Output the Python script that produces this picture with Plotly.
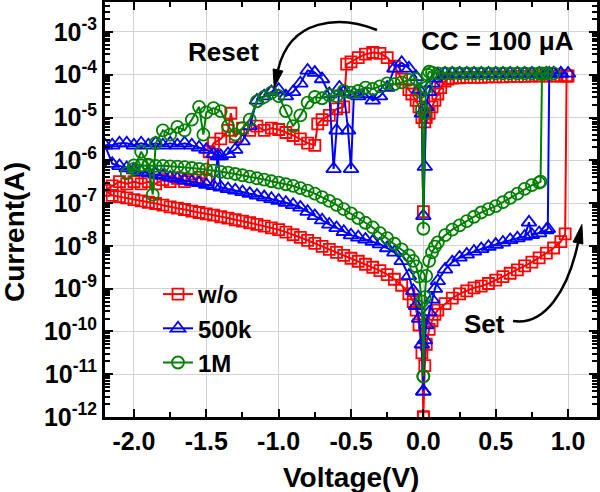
import plotly.graph_objects as go

# ---------------- data (log10 of |current| in A, voltage in V) ----------------
# w/o (red)
RED_SET_V = [0.0, 0.01, 0.02, 0.04, 0.06, 0.08, 0.10, 0.15, 0.20, 0.25, 0.30, 0.35, 0.40, 0.45,
             0.50, 0.55, 0.60, 0.65, 0.70, 0.75, 0.80, 0.85, 0.90, 0.95, 0.98, 0.99, 1.00]
RED_SET_LOGI = [-12.0, -10.8, -10.3, -9.95, -9.75, -9.6, -9.5, -9.35, -9.22, -9.12, -9.05, -8.98,
                -8.94, -8.88, -8.8, -8.72, -8.64, -8.56, -8.47, -8.38, -8.28, -8.17, -8.05, -7.9,
                -7.72, -4.03, -4.03]
RED_DOWN_V = [0.95, 0.90, 0.85, 0.80, 0.75, 0.70, 0.65, 0.60, 0.55, 0.50, 0.45, 0.40, 0.35, 0.30,
              0.25, 0.20, 0.17, 0.15, 0.12, 0.10, 0.08, 0.06, 0.04, 0.02, 0.01, 0.0]
RED_DOWN_LOGI = [-4.03, -4.03, -4.03, -4.03, -4.03, -4.04, -4.04, -4.04, -4.05, -4.05, -4.05, -4.06,
                 -4.06, -4.06, -4.07, -4.08, -4.1, -4.15, -4.3, -4.45, -4.6, -4.75, -4.9, -5.0,
                 -5.1, -7.2]
RED_RESET_V = [-0.01, -0.03, -0.05, -0.08, -0.10, -0.15, -0.20, -0.25, -0.30, -0.35, -0.40, -0.45,
               -0.50, -0.53, -0.55, -0.60, -0.65, -0.70, -0.73, -0.75, -0.80, -0.85, -0.90, -0.95,
               -1.00, -1.05, -1.10, -1.15, -1.20, -1.25, -1.30, -1.33, -1.35, -1.40, -1.45, -1.48,
               -1.50, -1.55, -1.60, -1.65, -1.70, -1.75, -1.80, -1.85, -1.90, -1.95, -2.00, -2.05,
               -2.10, -2.15, -2.20]
RED_RESET_LOGI = [-5.0, -4.75, -4.6, -4.45, -4.35, -4.1, -3.8, -3.6, -3.5, -3.48, -3.52, -3.6,
                  -3.7, -3.75, -4.75, -4.8, -4.95, -5.05, -5.15, -5.65, -5.6, -5.5, -5.42, -5.35,
                  -5.28, -5.25, -5.3, -5.2, -5.3, -5.25, -5.45, -4.9, -5.3, -5.5, -5.6, -5.8,
                  -6.45, -6.4, -6.45, -6.5, -6.42, -6.5, -6.45, -6.55, -6.5, -6.55, -6.5, -6.55,
                  -6.5, -6.6, -6.7]
RED_RET_V = [-2.15, -2.10, -2.05, -2.00, -1.95, -1.90, -1.85, -1.80, -1.75, -1.70, -1.65, -1.60,
             -1.55, -1.50, -1.45, -1.40, -1.35, -1.30, -1.25, -1.20, -1.15, -1.10, -1.05, -1.00,
             -0.95, -0.90, -0.85, -0.80, -0.75, -0.70, -0.65, -0.60, -0.55, -0.50, -0.45, -0.40,
             -0.35, -0.30, -0.25, -0.20, -0.15, -0.10, -0.07, -0.05, -0.03, -0.01, 0.0]
RED_RET_LOGI = [-6.82, -6.85, -6.88, -6.92, -6.95, -6.98, -7.01, -7.05, -7.09, -7.12, -7.15, -7.19,
                -7.22, -7.25, -7.28, -7.32, -7.35, -7.39, -7.42, -7.46, -7.5, -7.54, -7.58, -7.62,
                -7.68, -7.74, -7.8, -7.87, -7.94, -8.01, -8.08, -8.15, -8.22, -8.29, -8.36, -8.43,
                -8.5, -8.58, -8.67, -8.78, -8.92, -9.12, -9.3, -9.5, -9.85, -10.5, -12.0]

# 500k (blue)
BLUE_SET_V = [0.0, 0.01, 0.02, 0.04, 0.06, 0.08, 0.10, 0.15, 0.20, 0.25, 0.30, 0.35, 0.40, 0.45,
              0.50, 0.55, 0.60, 0.65, 0.70, 0.73, 0.75, 0.80, 0.85, 0.86, 0.87, 0.90, 0.95, 1.00]
BLUE_SET_LOGI = [-11.4, -10.2, -9.85, -9.55, -9.25, -9.0, -8.82, -8.55, -8.38, -8.27, -8.2, -8.13,
                 -8.07, -8.02, -7.97, -7.92, -7.86, -7.82, -7.78, -7.45, -7.74, -7.7, -7.63, -7.6,
                 -3.97, -3.97, -3.97, -3.97]
BLUE_DOWN_V = [0.95, 0.90, 0.85, 0.80, 0.75, 0.70, 0.65, 0.60, 0.55, 0.50, 0.45, 0.40, 0.35, 0.30,
               0.25, 0.20, 0.15, 0.10, 0.08, 0.06, 0.04, 0.02, 0.01, 0.0]
BLUE_DOWN_LOGI = [-3.97, -3.97, -3.97, -3.97, -3.97, -3.97, -3.97, -3.97, -3.97, -3.97, -3.97,
                  -3.97, -3.97, -3.97, -3.97, -3.97, -3.97, -4.0, -4.08, -4.2, -4.4, -4.75, -6.15,
                  -7.3]
BLUE_RESET_V = [-0.01, -0.03, -0.05, -0.10, -0.15, -0.20, -0.25, -0.30, -0.35, -0.40, -0.45, -0.48,
                -0.50, -0.52, -0.55, -0.58, -0.60, -0.62, -0.65, -0.70, -0.75, -0.80, -0.85, -0.90,
                -0.95, -1.00, -1.05, -1.10, -1.15, -1.20, -1.25, -1.30, -1.35, -1.40, -1.45, -1.50,
                -1.55, -1.60, -1.65, -1.70, -1.75, -1.80, -1.85, -1.90, -1.95, -2.00, -2.05, -2.10,
                -2.15, -2.20]
BLUE_RESET_LOGI = [-4.9, -4.35, -4.05, -3.85, -3.72, -3.85, -4.3, -4.5, -4.6, -4.45, -4.5, -4.45,
                   -6.2, -5.3, -4.4, -4.3, -5.3, -6.2, -4.45, -4.1, -3.95, -3.9, -4.2, -4.4, -4.5,
                   -4.35, -4.4, -4.5, -4.6, -5.2, -5.55, -5.75, -5.85, -5.9, -5.85, -5.75, -5.7,
                   -5.65, -5.6, -5.65, -5.6, -5.65, -5.6, -5.65, -5.6, -5.65, -5.6, -5.6, -5.65,
                   -5.65]
BLUE_RET_V = [-2.15, -2.10, -2.05, -2.00, -1.95, -1.90, -1.85, -1.80, -1.75, -1.70, -1.65, -1.60,
              -1.55, -1.50, -1.45, -1.42, -1.40, -1.35, -1.30, -1.25, -1.20, -1.15, -1.10, -1.05,
              -1.00, -0.95, -0.90, -0.85, -0.80, -0.75, -0.70, -0.65, -0.60, -0.55, -0.50, -0.45,
              -0.40, -0.35, -0.30, -0.25, -0.20, -0.15, -0.10, -0.07, -0.05, -0.03, -0.01, 0.0]
BLUE_RET_LOGI = [-6.08, -6.13, -6.18, -6.23, -6.27, -6.3, -6.33, -6.36, -6.4, -6.43, -6.47, -6.5,
                 -6.53, -6.57, -6.6, -5.9, -6.63, -6.67, -6.7, -6.74, -6.78, -6.82, -6.86, -6.9,
                 -6.94, -6.99, -7.04, -7.1, -7.2, -7.3, -7.4, -7.5, -7.58, -7.67, -7.75, -7.8,
                 -7.85, -7.9, -7.96, -8.05, -8.15, -8.35, -8.7, -9.05, -9.4, -9.7, -10.3, -11.4]

# 1M (green)
GREEN_SET_V = [0.0, 0.01, 0.02, 0.04, 0.06, 0.08, 0.10, 0.15, 0.20, 0.25, 0.30, 0.35, 0.40, 0.45,
               0.50, 0.55, 0.60, 0.65, 0.70, 0.75, 0.80, 0.81, 0.82, 0.85, 0.90]
GREEN_SET_LOGI = [-11.05, -9.2, -8.7, -8.35, -8.15, -8.02, -7.92, -7.75, -7.62, -7.52, -7.42, -7.32,
                  -7.22, -7.14, -7.07, -6.98, -6.88, -6.78, -6.67, -6.58, -6.52, -6.5, -3.97,
                  -3.97, -3.97]
GREEN_DOWN_V = [0.85, 0.80, 0.75, 0.70, 0.65, 0.60, 0.55, 0.50, 0.45, 0.40, 0.35, 0.30, 0.25,
                0.20, 0.15, 0.10, 0.06, 0.04, 0.03, 0.02, 0.01, 0.0]
GREEN_DOWN_LOGI = [-3.97, -3.97, -3.97, -3.97, -3.97, -3.97, -3.97, -3.97, -3.97, -3.97, -3.97,
                   -3.97, -3.97, -3.97, -3.97, -3.97, -3.95, -3.93, -4.0, -4.3, -4.9, -7.6]
GREEN_RESET_V = [-0.01, -0.02, -0.05, -0.10, -0.15, -0.20, -0.25, -0.30, -0.35, -0.40, -0.45,
                 -0.50, -0.55, -0.60, -0.65, -0.70, -0.75, -0.80, -0.85, -0.90, -0.95, -1.00,
                 -1.05, -1.10, -1.15, -1.20, -1.25, -1.30, -1.35, -1.40, -1.45, -1.50, -1.52,
                 -1.55, -1.60, -1.65, -1.70, -1.75, -1.80, -1.85, -1.87, -1.90, -1.95, -2.00, -2.05]
GREEN_RESET_LOGI = [-4.8, -4.4, -4.1, -4.12, -4.18, -4.22, -4.2, -4.27, -4.33, -4.3, -4.38, -4.42,
                    -4.38, -4.5, -4.48, -4.55, -4.52, -4.65, -4.95, -5.2, -4.85, -4.5, -4.42, -4.52,
                    -4.62, -5.05, -5.25, -5.4, -5.2, -4.85, -4.78, -4.88, -5.4, -4.75, -5.05, -5.3,
                    -5.22, -5.4, -5.3, -5.6, -6.8, -6.1, -5.8, -6.2, -6.3]
GREEN_RET_V = [-2.00, -1.95, -1.90, -1.85, -1.80, -1.75, -1.70, -1.65, -1.60, -1.55, -1.50, -1.45,
               -1.40, -1.35, -1.30, -1.25, -1.20, -1.15, -1.10, -1.05, -1.00, -0.95, -0.90, -0.85,
               -0.80, -0.75, -0.70, -0.65, -0.60, -0.55, -0.50, -0.45, -0.40, -0.35, -0.30, -0.25,
               -0.20, -0.15, -0.10, -0.07, -0.05, -0.03, -0.01, 0.0]
GREEN_RET_LOGI = [-6.12, -6.12, -6.12, -6.13, -6.13, -6.14, -6.15, -6.16, -6.18, -6.2, -6.22,
                  -6.24, -6.27, -6.29, -6.32, -6.35, -6.38, -6.42, -6.45, -6.49, -6.52, -6.56,
                  -6.6, -6.65, -6.71, -6.78, -6.86, -6.95, -7.04, -7.14, -7.24, -7.35, -7.46,
                  -7.57, -7.7, -7.82, -7.95, -8.08, -8.22, -8.35, -8.48, -8.72, -9.3, -11.05]

SERIES_NAMES = ["w/o", "500k", "1M"]
X_TICKS = [-2.0, -1.5, -1.0, -0.5, 0.0, 0.5, 1.0]
X_TICK_TEXT = ["-2.0", "-1.5", "-1.0", "-0.5", "0.0", "0.5", "1.0"]
Y_EXPONENTS = [-12, -11, -10, -9, -8, -7, -6, -5, -4, -3]

# ---------------- styling ----------------
FONT = "Liberation Sans, Arial, Helvetica, sans-serif"
L, R, T, B = 105, 597, 2, 417  # plot area in pixels


def paper(x, y):
    return (x - L) / (R - L), (B - y) / (B - T)


series = [
    (SERIES_NAMES[0], "#ff0000", "square-open", 11,
     [RED_SET_V, RED_DOWN_V, RED_RESET_V, RED_RET_V],
     [RED_SET_LOGI, RED_DOWN_LOGI, RED_RESET_LOGI, RED_RET_LOGI]),
    (SERIES_NAMES[1], "#0000ff", "triangle-up-open", 13,
     [BLUE_SET_V, BLUE_DOWN_V, BLUE_RESET_V, BLUE_RET_V],
     [BLUE_SET_LOGI, BLUE_DOWN_LOGI, BLUE_RESET_LOGI, BLUE_RET_LOGI]),
    (SERIES_NAMES[2], "#008000", "circle-open", 12,
     [GREEN_SET_V, GREEN_DOWN_V, GREEN_RESET_V, GREEN_RET_V],
     [GREEN_SET_LOGI, GREEN_DOWN_LOGI, GREEN_RESET_LOGI, GREEN_RET_LOGI]),
]

fig = go.Figure()
for name, color, symbol, size, vparts, iparts in series:
    v = [x for part in vparts for x in part]
    cur = [10 ** e for part in iparts for e in part]
    fig.add_trace(go.Scatter(
        x=v, y=cur, name=name, mode="lines+markers",
        line=dict(color=color, width=2),
        marker=dict(symbol=symbol, size=size, color=color, line=dict(color=color, width=1.8)),
    ))

axis_common = dict(
    showline=True, linecolor="black", linewidth=3, mirror="allticks", automargin=False,
    ticks="inside", tickcolor="black", tickwidth=2, ticklen=8,
    showgrid=True, gridcolor="#d4d4d4", gridwidth=1, zeroline=False,
    tickfont=dict(family=FONT, size=25, color="black", weight="bold"),
)

fig.update_xaxes(
    range=[-2.2, 1.2], tickmode="array", tickvals=X_TICKS, ticktext=X_TICK_TEXT,
    minor=dict(dtick=0.25, tick0=0, ticks="inside", ticklen=5, tickwidth=2, tickcolor="black",
               showgrid=False),
    **axis_common,
)
minor_vals = [k * 10.0 ** e for e in range(-12, -2) for k in range(2, 10)]
fig.update_yaxes(
    type="log", range=[-12, -2.3], tickmode="array",
    tickvals=[10.0 ** e for e in Y_EXPONENTS],
    ticktext=["10<sup>%d</sup>" % e for e in Y_EXPONENTS],
    minor=dict(tickmode="array", tickvals=minor_vals, ticks="inside", ticklen=5, tickwidth=1.5,
               tickcolor="black", showgrid=False),
    **axis_common,
)

annotations = []
bold = dict(family=FONT, color="black", weight="bold")


def label(text, px_, py_, size, angle=0):
    ax, ay = paper(px_, py_)
    return dict(text=text, x=ax, y=ay, xref="paper", yref="paper", xanchor="center",
                yanchor="middle", showarrow=False, textangle=angle, font=dict(size=size, **bold))


annotations.append(label("Voltage(V)", 351, 477, 28))
annotations.append(label("Current(A)", 14, 232, 28, -90))
annotations.append(label("Reset", 223, 52, 26))
annotations.append(label("CC = 100 \u03bcA", 497, 41, 26))
annotations.append(label("Set", 484, 324, 26))


def path_str(cmds):
    out = []
    for c, pts in cmds:
        coords = " ".join("%.4f,%.4f" % paper(*p) for p in pts)
        out.append(c + " " + coords)
    return " ".join(out)


shapes = [
    dict(type="path", xref="paper", yref="paper",
         path=path_str([("M", [(377, 30)]), ("C", [(340, 15), (290, 18), (278, 70)])]),
         line=dict(color="black", width=2.5)),
    dict(type="path", xref="paper", yref="paper",
         path=path_str([("M", [(282.9, 71.1)]), ("L", [(273.1, 68.9)]), ("L", [(274.2, 87.6)])]) + " Z",
         line=dict(color="black", width=1), fillcolor="black"),
    dict(type="path", xref="paper", yref="paper",
         path=path_str([("M", [(513, 321)]), ("C", [(545, 326), (568, 290), (578, 243)])]),
         line=dict(color="black", width=2.5)),
    dict(type="path", xref="paper", yref="paper",
         path=path_str([("M", [(582.9, 244.0)]), ("L", [(573.1, 242.0)]), ("L", [(581.9, 224.5)])]) + " Z",
         line=dict(color="black", width=1), fillcolor="black"),
]

lx, ly = paper(158, 272)
fig.update_layout(
    width=600, height=492,
    margin=dict(l=L, r=600 - R, t=T, b=492 - B, autoexpand=False),
    plot_bgcolor="white", paper_bgcolor="white",
    font=dict(family=FONT, color="black"),
    showlegend=True,
    legend=dict(x=lx, y=ly, xanchor="left", yanchor="top", bgcolor="rgba(0,0,0,0)",
                font=dict(size=24, **bold), tracegroupgap=0, itemsizing="trace"),
    annotations=annotations,
    shapes=shapes,
)

fig.write_html(
    "out.html",
    config={"displayModeBar": False},
    post_script="document.body.style.margin='0px';document.body.style.overflow='hidden';",
)
